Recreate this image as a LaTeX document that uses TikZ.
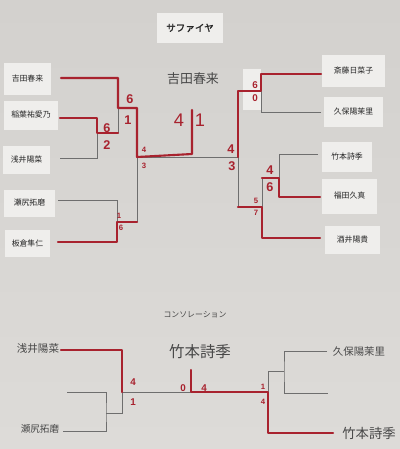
\documentclass[tikz,border=0pt]{standalone}
\usepackage{fontspec}
\newfontfamily\jpfont{Noto Sans CJK JP}
\newfontfamily\jpbold[FakeBold=1.6]{Noto Sans CJK JP}
\newfontfamily\digitfont{Liberation Sans}
\usetikzlibrary{positioning,calc}
\definecolor{paper}  {HTML}{D3D1CE}
\definecolor{paperlo}{HTML}{DDDBD8}
\definecolor{slipcol}{HTML}{EFEEEC}
\definecolor{marker} {HTML}{A8222E}
\definecolor{pencil} {HTML}{6E6E6E}
\definecolor{ink}    {HTML}{262626}
\tikzset{
  % --- nodes
  sz/.style 2 args = {minimum width=#1*0.025cm, minimum height=#2*0.025cm},
  slip/.style  = {fill=slipcol, inner sep=0pt, text=ink,
                  font=\jpfont\fontsize{5.6}{6}\selectfont},
  title/.style = {slip, font=\jpbold\fontsize{6.8}{7}\selectfont},
  hand/.style  = {inner sep=0pt, text=ink!85},
  fs/.style    = {font=\jpfont\fontsize{#1}{#1}\selectfont},
  big/.style   = {inner sep=0pt, text=marker, font=\digitfont\bfseries\fontsize{9}{9}\selectfont},
  med/.style   = {big, font=\digitfont\bfseries\fontsize{7}{7}\selectfont},
  small/.style = {big, font=\digitfont\bfseries\fontsize{5.5}{6}\selectfont},
  thin/.style  = {big, font=\digitfont\fontsize{13}{13}\selectfont},
  % --- edges
  lose/.style  = {draw=pencil, line width=0.55pt},
  win/.style   = {draw=marker, line width=1.5pt, line join=round, line cap=round},
}

\begin{document}
\begin{tikzpicture}[x=0.025cm, y=-0.025cm]
  \shade[top color=paper, bottom color=paperlo] (0,0) rectangle (400,449);
  \useasboundingbox (0,0) rectangle (400,449);

  % --- slips
  \node[title, sz={66}{30}] (ttl) at (190,28) {サファイヤ};
  \node[slip, sz={47}{32}] (p1) at (27.5,79)  {吉田春来};
  \node[slip, sz={54}{29}] (p2) at (31,115)   {稲葉祐愛乃};
  \node[slip, sz={47}{28}] (p3) at (26.5,160) {浅井陽菜};
  \node[slip, sz={51}{27}] (p4) at (29.5,203) {瀬尻拓磨};
  \node[slip, sz={45}{27}] (p5) at (27.5,243) {板倉隼仁};
  \node[slip, sz={63}{32}] (q1) at (353.5,71)  {斎藤日菜子};
  \node[slip, sz={59}{30}] (q2) at (353.5,112) {久保陽茉里};
  \node[slip, sz={50}{30}] (q3) at (347,157)   {竹本詩季};
  \node[slip, sz={55}{35}] (q4) at (349.5,196) {福田久真};
  \node[slip, sz={55}{28}] (q5) at (352.5,240) {酒井陽貴};
  \fill[slipcol] (243,69) rectangle (261,110);

  % --- main bracket, left
  \coordinate (a1) at (61,78);  \coordinate (a2) at (60,118);
  \coordinate (a3) at (60,158); \coordinate (a4) at (58,200);
  \coordinate (a5) at (58,242);
  \coordinate (m1) at (97,133); \coordinate (m2) at (118,108);
  \coordinate (m3) at (117,222); \coordinate (m4) at (137,157);
  \coordinate (f1) at (192,154); \coordinate (f2) at (192,110);
  % --- main bracket, right
  \coordinate (b1) at (321,74);  \coordinate (b2) at (321,112);
  \coordinate (b3) at (318,154); \coordinate (b4) at (320,197);
  \coordinate (b5) at (320,238);
  \coordinate (k1) at (261,91);  \coordinate (k2) at (279,178);
  \coordinate (k3) at (262,207); \coordinate (k4) at (238,157);

  \draw[lose] (m4) -- (k4);
  \draw[lose] (a3) -| (m1);
  \draw[lose] (m1 -| m2) -- (m2);
  \draw[lose] (a4) -| (m3);
  \draw[lose] (m3 -| m4) -- (m4);
  \draw[lose] (b2) -| (k1);
  \draw[lose] (b3) -| (k2);
  \draw[lose] (k2 -| k3) -- (k3);
  \draw[lose] (k3 -| k4) -- (k4);

  \draw[win] (a2) -| (m1) -- (m1 -| m2);
  \draw[win] (a1) -| (m2) -- (m2 -| m4) -- (m4) -- (f1) -- (f2);
  \draw[win] (a5) -| (m3) -- (m3 -| m4);
  \draw[win] (b1) -| (k1) -- (k1 -| k4) -- (k4);
  \draw[win] (b4) -| (k2) -- (k2 -| k3);
  \draw[win] (b5) -| (k3) -- (k3 -| k4);

  % --- scores
  \foreach \x/\y/\s [count=\i] in {130/99/6,128/120/1,107/128/6,107/145/2,
      231/149/4,232/166/3,270/170/4,270/187/6}
    \node[big] (sb\i) at (\x,\y) {\s};
  \foreach \x/\y/\s [count=\i] in {255/85/6,255/98/0,133/382/4,133/402/1,
      183/388/0,204/388/4}
    \node[med] (sm\i) at (\x,\y) {\s};
  \foreach \x/\y/\s [count=\i] in {119/216/1,121/228/6,144/150/4,144/166/3,
      256/201/5,256/213/7,263/387/1,263/402/4}
    \node[small] (ss\i) at (\x,\y) {\s};
  \node[thin] (fl) at (179,120) {4};
  \node[thin] (fr) at (200,120) {1};
  \node[hand, fs=9.2] (champ) at (193,79) {吉田春来};

  % --- consolation
  \node[hand, fs=5.6] (cons) at (195,315) {コンソレーション};
  \node[hand, fs=11] (cwin) at (200,352) {竹本詩季};
  \node[hand, fs=7.5] (h1) at (38,349)  {浅井陽菜};
  \node[hand, fs=6.8] (h2) at (40,429)  {瀬尻拓磨};
  \node[hand, fs=7.4] (h3) at (359,352) {久保陽茉里};
  \node[hand, fs=9.5] (h4) at (369,433) {竹本詩季};

  \coordinate (c1) at (61,350);  \coordinate (c2) at (67,392);
  \coordinate (c3) at (63,431);
  \coordinate (j1) at (106,413); \coordinate (j2) at (122,392);
  \coordinate (cf) at (191,392); \coordinate (cw) at (191,370);
  \coordinate (d1) at (327,351); \coordinate (d2) at (328,393);
  \coordinate (d3) at (333,433);
  \coordinate (j3) at (284,371); \coordinate (j4) at (268,392);

  \draw[lose] (c2) -| (j1) |- (c3);
  \draw[lose] (j1) -| (j2);
  \draw[lose] (j2) -- (cf);
  \draw[lose] (d1) -| (j3) |- (d2);
  \draw[lose] (j3) -| (j4);
  \draw[win] (c1) -| (j2);
  \draw[win] (d3) -| (j4) -- (cf) -- (cw);
\end{tikzpicture}
\end{document}
